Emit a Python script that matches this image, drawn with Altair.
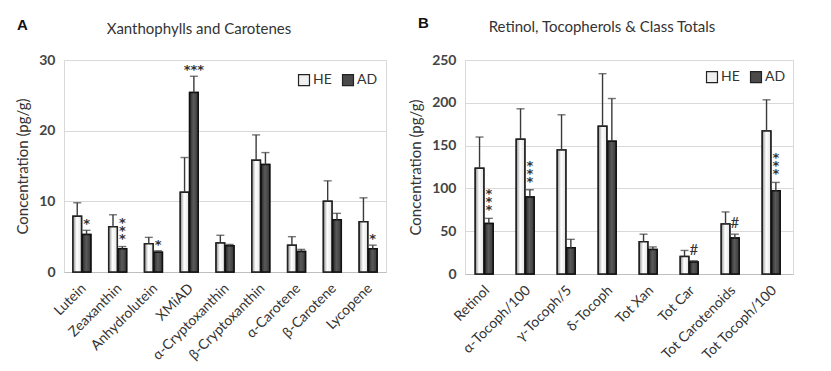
import altair as alt
import pandas as pd

FONT = "Lato"

cats_a = ["Lutein", "Zeaxanthin", "Anhydrolutein", "XMiAD", "α-Cryptoxanthin",
          "β-Cryptoxanthin", "α-Carotene", "β-Carotene", "Lycopene"]
he_a = [7.9, 6.4, 4.0, 11.3, 4.1, 15.8, 3.8, 10.0, 7.1]
he_a_top = [9.8, 8.1, 4.9, 16.2, 5.2, 19.4, 5.0, 12.9, 10.5]
ad_a = [5.3, 3.3, 2.8, 25.4, 3.7, 15.2, 2.9, 7.4, 3.3]
ad_a_top = [5.9, 3.6, 3.0, 27.7, 3.9, 16.9, 3.2, 8.3, 3.8]
sig_a = ["*", "*\n*\n*", "*", "***", "", "", "", "", "*"]

cats_b = ["Retinol", "α-Tocoph/100", "γ-Tocoph/5", "δ-Tocoph", "Tot Xan",
          "Tot Car", "Tot Carotenoids", "Tot Tocoph/100"]
he_b = [123.5, 157.5, 145.0, 172.5, 37.8, 20.5, 58.5, 167.0]
he_b_top = [160.0, 193.0, 186.0, 234.0, 46.5, 27.5, 72.5, 203.5]
ad_b = [59.0, 90.0, 30.6, 155.0, 28.5, 13.9, 42.0, 97.3]
ad_b_top = [65.0, 98.5, 40.5, 205.0, 31.6, 15.5, 46.5, 107.0]
sig_b = ["*\n*\n*", "*\n*\n*", "", "", "", "#", "#", "*\n*\n*"]

groups = ["HE", "AD"]


def kind_of(s):
    if s == "#":
        return "hash"
    if "\n" in s:
        return "vstar"
    return "star" if s else ""


def panel(cats, he, he_top, ad, ad_top, sig, ymax, ystep, title, letter,
          w, h, title_x, title_y, gap, leg_x, leg_y):
    rows = []
    for i, c in enumerate(cats):
        rows.append(dict(cat=c, grp="HE", val=he[i], top=he_top[i], sig=""))
        rows.append(dict(cat=c, grp="AD", val=ad[i], top=ad_top[i], sig=sig[i]))
    df = pd.DataFrame(rows)
    df["kind"] = df["sig"].map(kind_of)

    x = alt.X("cat:N", sort=cats,
              scale=alt.Scale(paddingInner=0.5, paddingOuter=0.25),
              axis=alt.Axis(title=None, labelAngle=-45, labelFontSize=14,
                            labelColor="#333", labelFont=FONT, ticks=False,
                            domainColor="#bfbfbf", labelPadding=9,
                            labelOffset=-3))
    xo = alt.XOffset("grp:N", sort=groups,
                     scale=alt.Scale(domain=groups, paddingInner=0.08))
    y = alt.Y("val:Q", scale=alt.Scale(domain=[0, ymax], nice=False),
              axis=alt.Axis(title="Concentration (pg/g)",
                            values=list(range(0, ymax + 1, ystep)),
                            titleFontSize=15, titleFont=FONT,
                            titleFontWeight="normal", titleColor="#333",
                            labelFontSize=14, labelFont=FONT, labelColor="#444",
                            labelFontWeight="bold",
                            ticks=False, domain=False, gridColor="#d9d9d9",
                            labelPadding=9, titlePadding=gap))

    base = alt.Chart(df)
    bars = base.mark_bar(stroke="#222", strokeWidth=1.5).encode(
        x=x, xOffset=xo, y=y,
        fill=alt.Fill("grp:N",
                      scale=alt.Scale(domain=groups, range=["#f0f0f0", "#4a4a4a"]),
                      legend=alt.Legend(title=None, orient="none",
                                        legendX=leg_x, legendY=leg_y,
                                        direction="horizontal",
                                        symbolType="square", symbolSize=120,
                                        symbolStrokeColor="#222",
                                        symbolStrokeWidth=1.2,
                                        labelFontSize=14, labelFont=FONT,
                                        labelColor="#333", labelOffset=2,
                                        columnPadding=8)))
    he_grad = alt.LinearGradient(
        gradient="linear", x1=0, x2=1, y1=0, y2=0,
        stops=[alt.GradientStop(color="#8f8f8f", offset=0),
               alt.GradientStop(color="#ffffff", offset=0.45),
               alt.GradientStop(color="#e2e2e2", offset=1)])
    ad_grad = alt.LinearGradient(
        gradient="linear", x1=0, x2=1, y1=0, y2=0,
        stops=[alt.GradientStop(color="#2a2a2a", offset=0),
               alt.GradientStop(color="#5a5a5a", offset=0.45),
               alt.GradientStop(color="#383838", offset=1)])
    he_bars = base.transform_filter("datum.grp == 'HE'").mark_bar(
        color=he_grad, stroke="#222", strokeWidth=1.5).encode(x=x, xOffset=xo, y=y)
    ad_bars = base.transform_filter("datum.grp == 'AD'").mark_bar(
        color=ad_grad, stroke="#111", strokeWidth=1.5).encode(x=x, xOffset=xo, y=y)
    err = base.mark_rule(color="#3a3a3a", strokeWidth=1.4).encode(
        x=x, xOffset=xo, y="val:Q", y2="top:Q")
    caps = base.mark_tick(color="#3a3a3a", thickness=1.4, size=8,
                          orient="horizontal").encode(
        x=x, xOffset=xo, y="top:Q")
    stars = base.transform_filter("datum.kind == 'star'").mark_text(
        fontSize=13, font="DejaVu Sans", fontWeight="bold", fill="#333",
        baseline="bottom", dy=1).encode(
        x=x, xOffset=xo, y="top:Q", text="sig:N")
    vstars = base.transform_filter("datum.kind == 'vstar'").mark_text(
        fontSize=13, font="DejaVu Sans", fontWeight="bold", fill="#333",
        baseline="bottom", lineHeight=8, dy=-17, lineBreak="\n").encode(
        x=x, xOffset=xo, y="top:Q", text="sig:N")
    hashes = base.transform_filter("datum.kind == 'hash'").mark_text(
        fontSize=15, font=FONT, fill="#333", baseline="bottom",
        dy=-3).encode(
        x=x, xOffset=xo, y="top:Q", text="sig:N")
    lab = alt.Chart(pd.DataFrame({"t": [letter]})).mark_text(
        fontSize=15, fontWeight="bold", font="Liberation Sans", fill="#111",
        align="left", baseline="middle").encode(
        text="t:N", x=alt.value(-47), y=alt.value(title_y - 4))
    ttl = alt.Chart(pd.DataFrame({"t": [title]})).mark_text(
        fontSize=15, font=FONT, fill="#333", align="center",
        baseline="middle").encode(
        text="t:N", x=alt.value(title_x), y=alt.value(title_y))

    return alt.layer(bars, he_bars, ad_bars, err, caps, stars, vstars, hashes,
                     lab, ttl).properties(width=w, height=h)


pa = panel(cats_a, he_a, he_a_top, ad_a, ad_a_top, sig_a, 30, 5,
           "Xanthophylls and Carotenes", "A", 322, 212, 135, -31, 8, 233, 13)
pb = panel(cats_b, he_b, he_b_top, ad_b, ad_b_top, sig_b, 250, 50,
           "Retinol, Tocopherols & Class Totals", "B", 328, 214, 137, -33, 8,
           240, 10)

chart = alt.hconcat(pa, pb, spacing=21).resolve_scale(
    fill="independent").configure_view(stroke="#d9d9d9").properties(
    padding={"left": 7, "top": 7, "right": 5, "bottom": 5},
    background="white")

chart.save("out.html", embed_options={"renderer": "svg", "actions": False})
